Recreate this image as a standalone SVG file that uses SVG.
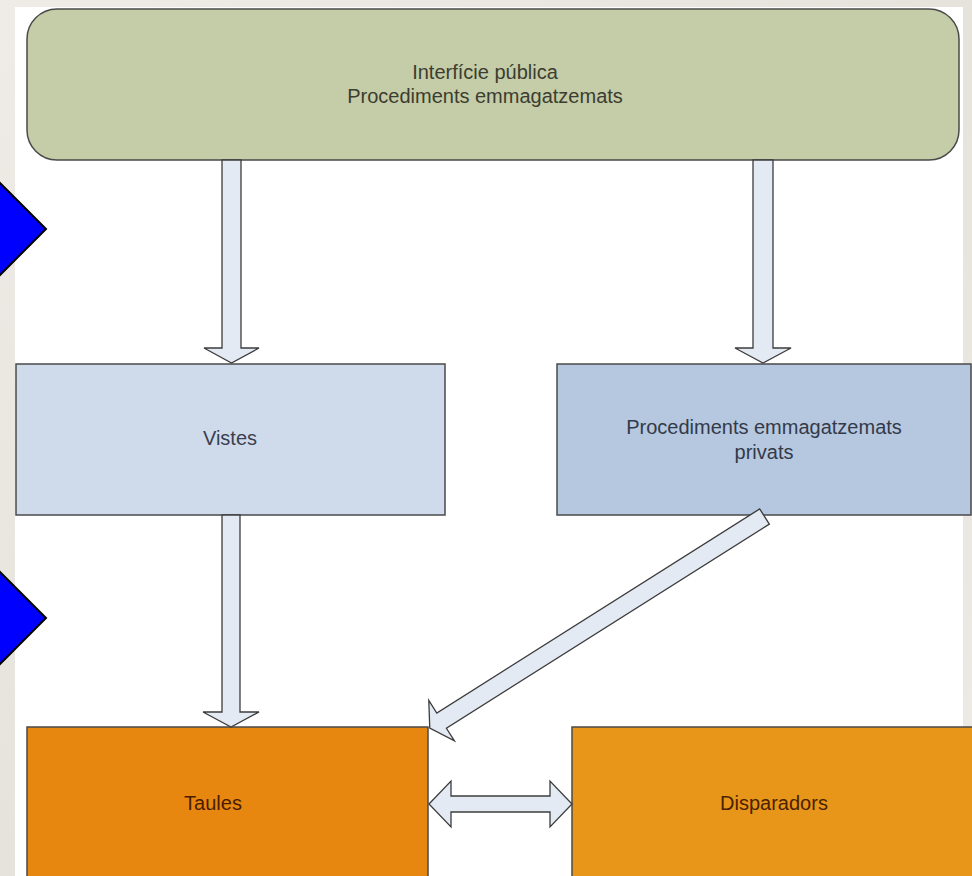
<svg xmlns="http://www.w3.org/2000/svg" width="972" height="876" viewBox="0 0 972 876">
  <defs>
    <linearGradient id="marble" x1="0" y1="0" x2="1" y2="1">
      <stop offset="0" stop-color="#efece7"/>
      <stop offset="0.5" stop-color="#e6e2dc"/>
      <stop offset="1" stop-color="#eeebe6"/>
    </linearGradient>
    <style>
      .box { stroke: #4a4a4a; stroke-width: 1.5; }
      .arrow { fill: #e4eaf3; stroke: #3c3c3c; stroke-width: 1.3; stroke-linejoin: miter; }
      .txt { font-family: "Liberation Sans", Arial, sans-serif; font-size: 20px; text-anchor: middle; }
      .tri { fill: #0000ff; stroke: #000000; stroke-width: 2; }
    </style>
  </defs>

  <rect x="0" y="0" width="972" height="876" fill="url(#marble)"/>
  <rect x="15" y="7" width="948" height="869" fill="#ffffff"/>

  <polygon class="tri" points="46,229 -40,143 -40,315"/>
  <polygon class="tri" points="46,618 -40,532 -40,704"/>

  <g id="interficie">
    <rect class="box" x="27" y="9" width="932" height="151" rx="30" ry="30" fill="#c5cca8"/>
    <text class="txt" x="485" y="79" fill="#3b3d30">Interfície pública</text>
    <text class="txt" x="485" y="103" fill="#3b3d30">Procediments emmagatzemats</text>
  </g>

  <g id="vistes">
    <rect class="box" x="16" y="364" width="429" height="151" fill="#cfdbeb"/>
    <text class="txt" x="230" y="445" fill="#3a4050">Vistes</text>
  </g>

  <g id="procediments-privats">
    <rect class="box" x="557" y="364" width="414" height="151" fill="#b6c7e0"/>
    <text class="txt" x="764" y="434" fill="#333a48">Procediments emmagatzemats</text>
    <text class="txt" x="764" y="459" fill="#333a48">privats</text>
  </g>

  <g id="taules">
    <rect class="box" x="27" y="727" width="401" height="160" fill="#e8870f"/>
    <text class="txt" x="213" y="810" fill="#4a1c00">Taules</text>
  </g>

  <g id="disparadors">
    <rect class="box" x="572" y="727" width="410" height="160" fill="#e8961a"/>
    <text class="txt" x="774" y="810" fill="#4a2200">Disparadors</text>
  </g>

  <g id="connectors">
    <path class="arrow" d="M222,160 L241,160 L241,348 L259,348 L231.5,363 L204,348 L222,348 Z"/>
    <path class="arrow" d="M753,160 L773,160 L773,348 L791,348 L763,363 L735,348 L753,348 Z"/>
    <path class="arrow" d="M222,515 L240,515 L240,712 L259,712 L231,727 L203,712 L222,712 Z"/>
    <path class="arrow" transform="translate(764.5,516.5) rotate(147.7)" d="M0,-9 L382,-9 L382,-24 L396,0 L382,24 L382,9 L0,9 Z"/>
    <path class="arrow" d="M429,804 L451,781 L451,796 L550,796 L550,781 L572,804 L550,827 L550,812 L451,812 L451,827 Z"/>
  </g>
</svg>
